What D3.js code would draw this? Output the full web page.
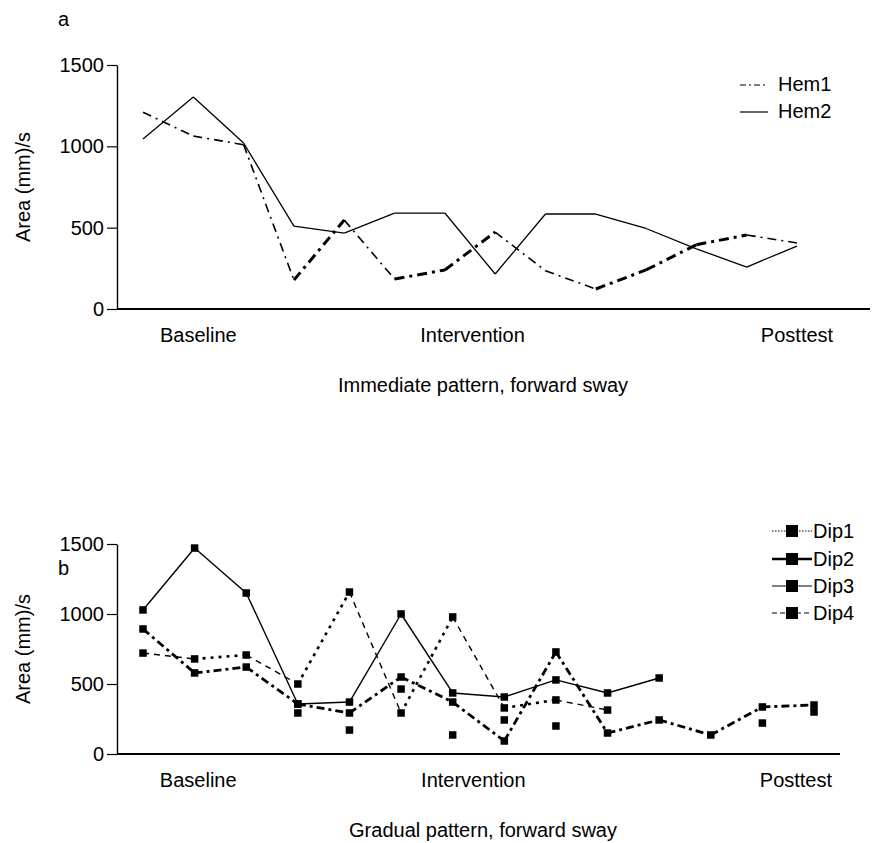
<!DOCTYPE html>
<html>
<head>
<meta charset="utf-8">
<script src="https://cdn.jsdelivr.net/npm/d3@7"></script>
<style>
  html, body { margin: 0; padding: 0; background: #fff; }
  svg { display: block; font-family: "Liberation Sans", Arial, sans-serif; }
</style>
</head>
<body>
<svg id="chart" width="874" height="843"></svg>
<script>
// Sessions (x positions are session indices 0..13)
const sessions = d3.range(14);
const phases = ["Baseline", "Intervention", "Posttest"];
const yTicks = [0, 500, 1000, 1500];

// Panel a: immediate pattern
const hem1 = [1210, 1063, 1010, 178, 547, 184, 240, 473, 235, 123, 240, 395, 455, 406];
const hem2 = [1045, 1303, 1020, 510, 467, 590, 590, 215, 584, 584, 495, 370, 258, 387];
const phaseAtA = [1.1, 6.55, 13];

// Panel b: gradual pattern
const dip1 = [721, 679, 707, 500, 1157, 293, 979, 329, 386, 314, null, null, null, null];
const dip2 = [893, 579, 621, 357, 293, 550, 371, 93, 729, 150, 243, 136, 336, 350];
const dip3 = [1029, 1471, 1150, 357, 371, 1000, 436, 407, 529, 436, 543, null, null, null];
const dip4 = [null, null, null, 293, 171, 464, 136, 243, 200, null, null, null, 221, 300];
const phaseAtB = [1.07, 6.4, 12.65];

const FS = 20;
const svg = d3.select("#chart");

function drawAxes(g, x, y, xEnd, phaseAt, title, letter, titleY, letterY) {
  const axX = 117;
  // y axis
  const yAxis = d3.axisLeft(y).tickValues(yTicks).tickFormat(d3.format("d"))
    .tickSize(10).tickPadding(3).tickSizeOuter(0);
  const ya = g.append("g").attr("transform", `translate(${axX},0)`).call(yAxis);
  ya.attr("font-family", null).attr("font-size", null);
  ya.select(".domain").attr("stroke-width", 1.4);
  ya.selectAll(".tick line").attr("stroke-width", 1.2);
  ya.selectAll(".tick text").attr("font-size", FS).attr("fill", "#000");
  // x axis line
  g.append("line")
    .attr("x1", axX).attr("x2", xEnd)
    .attr("y1", y(0)).attr("y2", y(0))
    .attr("stroke", "#000").attr("stroke-width", 1.8);
  // phase labels
  g.selectAll(".phase").data(phases).join("text")
    .attr("x", (d, i) => x(phaseAt[i]))
    .attr("y", y(0) + 33)
    .attr("text-anchor", "middle")
    .attr("font-size", FS)
    .text(d => d);
  // y label
  const yMid = (y(0) + y(1500)) / 2;
  g.append("text")
    .attr("transform", `translate(30,${yMid}) rotate(-90)`)
    .attr("text-anchor", "middle")
    .attr("font-size", FS)
    .text("Area (mm)/s");
  // x title
  g.append("text")
    .attr("x", 483).attr("y", titleY)
    .attr("text-anchor", "middle")
    .attr("font-size", FS)
    .text(title);
  // panel letter
  g.append("text")
    .attr("x", 58).attr("y", letterY)
    .attr("font-size", FS)
    .text(letter);
}

// Draw a series segment by segment, style picked by direction of change
function drawSegments(g, x, y, values, styleFor) {
  for (let i = 0; i < values.length - 1; i++) {
    const a = values[i], b = values[i + 1];
    if (a == null || b == null) continue;
    const s = styleFor(b > a, i);
    if (!s) continue;
    g.append("path")
      .datum([[i, a], [i + 1, b]])
      .attr("d", d3.line().x(d => x(d[0])).y(d => y(d[1])))
      .attr("fill", "none")
      .attr("stroke", "#000")
      .attr("stroke-width", s.w)
      .attr("stroke-dasharray", s.dash || null)
      .attr("stroke-linejoin", "round");
  }
}

function drawMarkers(g, x, y, values, size) {
  g.selectAll(null)
    .data(values.map((v, i) => [i, v]).filter(d => d[1] != null))
    .join("rect")
    .attr("x", d => x(d[0]) - size / 2)
    .attr("y", d => y(d[1]) - size / 2)
    .attr("width", size).attr("height", size)
    .attr("fill", "#000");
}

// ---------- Panel a ----------
{
  const x = d3.scaleLinear().domain([0, 13]).range([143, 797]);
  const y = d3.scaleLinear().domain([0, 1500]).range([309, 65]);
  const g = svg.append("g");
  drawAxes(g, x, y, 870, phaseAtA, "Immediate pattern, forward sway", "a", 392, 26);

  drawSegments(g, x, y, hem2, () => ({ w: 1.3 }));
  drawSegments(g, x, y, hem1, up => up
    ? { w: 3, dash: "10,5,3,5" }
    : { w: 1.6, dash: "9,5,2,5" });

  // legend
  const lg = g.append("g");
  const items = [
    { name: "Hem1", dash: "6,3,2,3", y: 84 },
    { name: "Hem2", dash: null, y: 111 }
  ];
  items.forEach(it => {
    lg.append("line").attr("x1", 740).attr("x2", 768)
      .attr("y1", it.y + 1).attr("y2", it.y + 1)
      .attr("stroke", "#000").attr("stroke-width", 1.2)
      .attr("stroke-dasharray", it.dash);
    lg.append("text").attr("x", 778).attr("y", it.y + 7)
      .attr("font-size", FS).text(it.name);
  });
}

// ---------- Panel b ----------
{
  const x = d3.scaleLinear().domain([0, 13]).range([143, 814]);
  const y = d3.scaleLinear().domain([0, 1500]).range([754, 544]);
  const g = svg.append("g");
  drawAxes(g, x, y, 840, phaseAtB, "Gradual pattern, forward sway", "b", 837, 575);

  drawSegments(g, x, y, dip3, () => ({ w: 1.4 }));
  drawSegments(g, x, y, dip2, () => ({ w: 2.8, dash: "8,4,3,4" }));
  drawSegments(g, x, y, dip1, up => up
    ? { w: 2.6, dash: "3,5" }
    : { w: 1.4, dash: "6,5" });

  [dip1, dip2, dip3, dip4].forEach(s => drawMarkers(g, x, y, s, 7.5));

  // legend
  const lg = g.append("g");
  const items = [
    { name: "Dip1", w: 1, dash: "1.5,1.5", y: 531 },
    { name: "Dip2", w: 2.6, dash: null, y: 559 },
    { name: "Dip3", w: 1.2, dash: null, y: 586 },
    { name: "Dip4", w: 1.2, dash: "5,3", y: 613 }
  ];
  items.forEach(it => {
    lg.append("line").attr("x1", 772).attr("x2", 812)
      .attr("y1", it.y).attr("y2", it.y)
      .attr("stroke", "#000").attr("stroke-width", it.w)
      .attr("stroke-dasharray", it.dash);
    lg.append("rect").attr("x", 786).attr("y", it.y - 6)
      .attr("width", 12).attr("height", 12).attr("fill", "#000");
    lg.append("text").attr("x", 813).attr("y", it.y + 7)
      .attr("font-size", FS).text(it.name);
  });
}
</script>
</body>
</html>
